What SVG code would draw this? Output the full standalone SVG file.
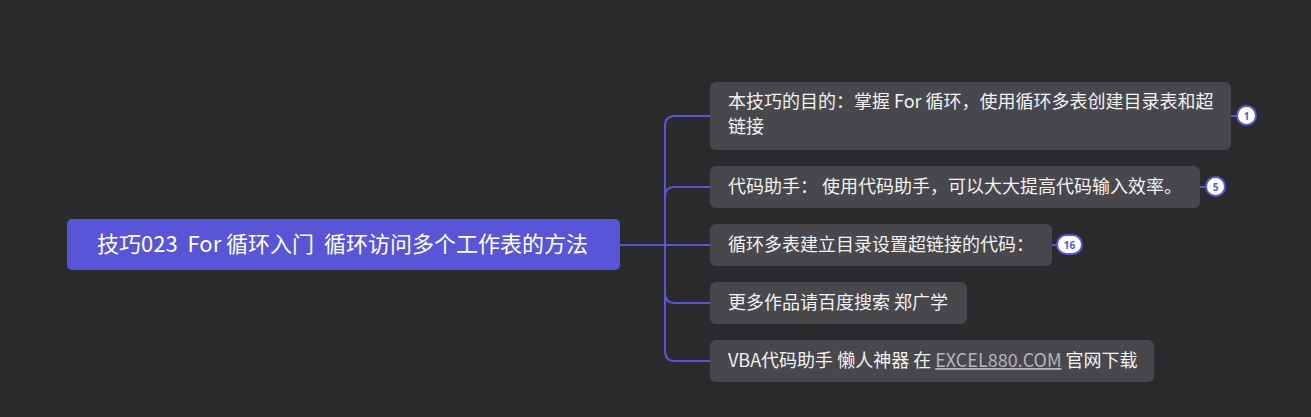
<svg xmlns="http://www.w3.org/2000/svg" width="1311" height="417" viewBox="0 0 1311 417">
<style>
.bg{fill:#2b2a2d}
.root rect{fill:#5856d6}
.root text{fill:#ffffff;font-family:"Noto Sans CJK SC","Noto Sans",sans-serif;font-size:22px}
.node rect.box{fill:#48474c}
.node text{fill:#f2f2f2;font-family:"Noto Sans CJK SC","Noto Sans",sans-serif;font-size:18px}
.conn path{fill:none;stroke:#5856d6;stroke-width:2}
.badge rect{fill:#ffffff;stroke:#5856d6;stroke-width:2}
.badge text{fill:#5856d6;font-family:"Noto Sans","DejaVu Sans",sans-serif;font-size:10px;font-weight:bold;text-anchor:middle}
.link{fill:#b5b5b8}
</style>
<rect class="bg" x="0" y="0" width="1311" height="417"/>
<g id="connectors" class="conn">
<path d="M620,245 H665 V126 Q665,116 675,116 H710"/>
<path d="M620,245 H665 V197 Q665,187 675,187 H710"/>
<path d="M620,245 H710"/>
<path d="M620,245 H665 V293 Q665,303 675,303 H710"/>
<path d="M620,245 H665 V351 Q665,361 675,361 H710"/>
<path d="M1231,116 H1238"/>
<path d="M1200,187 H1207"/>
<path d="M1052,245 H1058"/>
</g>
<g id="root" class="root">
<rect x="67" y="219" width="553" height="51" rx="5"/>
<text x="97" y="252" xml:space="preserve">技巧023  For 循环入门  循环访问多个工作表的方法</text>
</g>
<g id="node1" class="node">
<rect class="box" x="710" y="82" width="521" height="68" rx="6"/>
<text x="728" y="108">本技巧的目的：掌握 For 循环，使用循环多表创建目录表和超</text>
<text x="728" y="133">链接</text>
</g>
<g id="badge1" class="badge">
<rect x="1237" y="106" width="19" height="19" rx="9.5"/>
<text x="1246.5" y="119.5">1</text>
</g>
<g id="node2" class="node">
<rect class="box" x="710" y="166" width="490" height="42" rx="6"/>
<text x="728" y="193" xml:space="preserve">代码助手： 使用代码助手，可以大大提高代码输入效率。</text>
</g>
<g id="badge2" class="badge">
<rect x="1206" y="177" width="19" height="19" rx="9.5"/>
<text x="1215.5" y="190.5">5</text>
</g>
<g id="node3" class="node">
<rect class="box" x="710" y="224" width="342" height="42" rx="6"/>
<text x="728" y="251">循环多表建立目录设置超链接的代码：</text>
</g>
<g id="badge3" class="badge">
<rect x="1057" y="235" width="25" height="19" rx="9.5"/>
<text x="1069.5" y="248.5">16</text>
</g>
<g id="node4" class="node">
<rect class="box" x="710" y="282" width="257" height="42" rx="6"/>
<text x="728" y="309">更多作品请百度搜索 郑广学</text>
</g>
<g id="node5" class="node">
<rect class="box" x="710" y="340" width="444" height="42" rx="6"/>
<text x="728" y="367">VBA代码助手 懒人神器 在 <tspan class="link" text-decoration="underline">EXCEL880.COM</tspan> 官网下载</text>
</g>
</svg>
